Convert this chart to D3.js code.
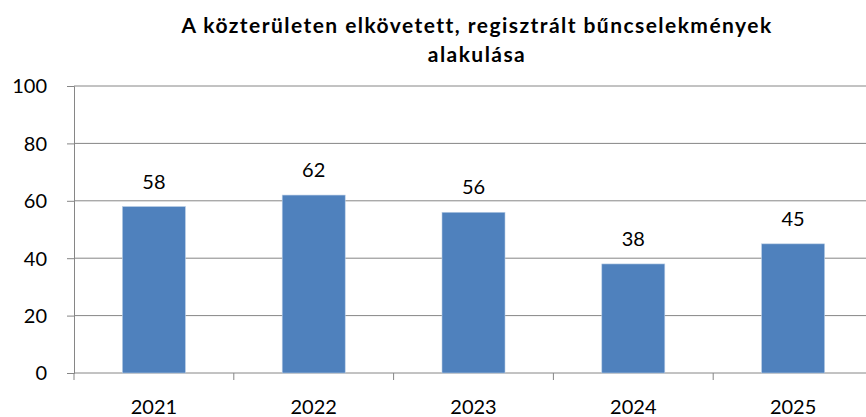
<!DOCTYPE html>
<html><head><meta charset="utf-8">
<script src="https://cdn.jsdelivr.net/npm/d3@7"></script>
<style>body{margin:0;background:#fff}svg{display:block}text{font-family:Lato,"Open Sans",sans-serif}</style>
</head><body><svg id="c" width="866" height="417"></svg>
<script>
const categories = ["2021","2022","2023","2024","2025"];
const values = [58,62,56,38,45];
const yTicks = [0,20,40,60,80,100];
const titleLines = ["A közterületen elkövetett, regisztrált bűncselekmények","alakulása"];

(function(){
const svg = d3.select("#c");
const mL = 74, mR = 873, mT = 86, mB = 373;
const xb = d3.scaleBand().domain(categories).range([mL,mR]);
const y = d3.scaleLinear().domain([0,100]).range([mB,mT]);

// gridlines
svg.append("g").selectAll("line").data(yTicks.filter(d=>d>0)).join("line")
  .attr("x1",mL).attr("x2",866).attr("y1",d=>y(d)).attr("y2",d=>y(d))
  .attr("stroke","#868686").attr("stroke-width",1);

// y axis
const ya = svg.append("g").attr("transform",`translate(${mL},0)`)
  .call(d3.axisLeft(y).tickValues(yTicks).tickSize(7).tickPadding(20));
ya.select(".domain").attr("stroke","#868686");
ya.selectAll(".tick line").attr("stroke","#868686");
ya.selectAll(".tick text").attr("font-size",20).attr("fill","#000").attr("font-family","Lato,sans-serif").attr("dy","0.34em");

// x axis
const xa = svg.append("g").attr("transform",`translate(0,${mB})`)
  .call(d3.axisBottom(xb).tickSize(0));
xa.select(".domain").attr("stroke","#868686").attr("d",`M${mL},0H866`);
xa.selectAll(".tick text").attr("font-size",20).attr("fill","#000").attr("font-family","Lato,sans-serif")
  .attr("y",41).attr("dy",0);
svg.append("g").selectAll("line").data(categories).join("line")
  .attr("x1",d=>xb(d)).attr("x2",d=>xb(d)).attr("y1",mB).attr("y2",mB+7)
  .attr("stroke","#868686");

// bars
svg.append("g").selectAll("rect").data(values).join("rect")
  .attr("x",(d,i)=>xb(categories[i])+xb.bandwidth()/2-31.5)
  .attr("width",63)
  .attr("y",d=>y(d)).attr("height",d=>mB-y(d))
  .attr("fill","#4F81BD").attr("stroke","#B9CDE5").attr("stroke-width",0.6);

// labels
svg.append("g").selectAll("text").data(values).join("text")
  .attr("x",(d,i)=>xb(categories[i])+xb.bandwidth()/2)
  .attr("y",d=>y(d)-18).attr("text-anchor","middle")
  .attr("font-size",20).attr("fill","#000").text(d=>d);

// title
svg.append("g").selectAll("text").data(titleLines).join("text")
  .attr("x",477).attr("y",(d,i)=>33+i*29).attr("text-anchor","middle")
  .attr("font-size",21).attr("font-weight","bold").attr("letter-spacing","1.45px")
  .attr("fill","#000").text(d=>d);
})();
</script></body></html>
